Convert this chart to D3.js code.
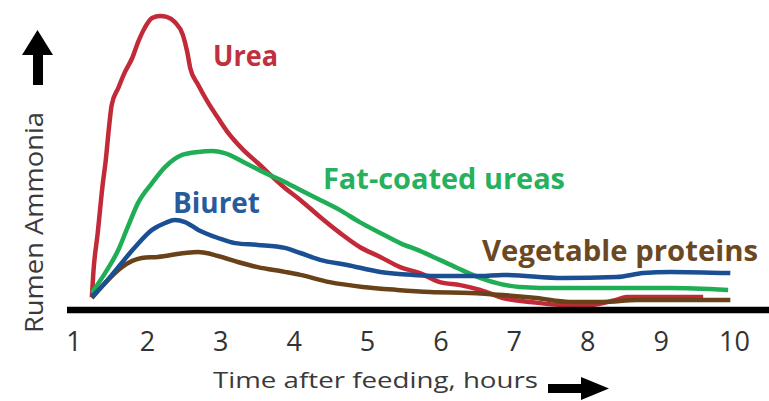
<!DOCTYPE html>
<html>
<head>
<meta charset="utf-8">
<script src="https://cdn.jsdelivr.net/npm/d3@7"></script>
<style>
  html, body { margin: 0; padding: 0; background: #ffffff; }
  svg { display: block; }
</style>
</head>
<body>
<svg id="chart" width="769" height="401"></svg>
<script>
// ---- data (hours after feeding, relative rumen ammonia 0-100) ----
const xTicks = [1, 2, 3, 4, 5, 6, 7, 8, 9, 10];

const ureaX = [1.25,1.27,1.33,1.40,1.44,1.48,1.52,1.61,1.70,1.80,1.88,1.97,2.07,2.18,2.27,2.38,2.49,2.55,2.59,2.70,2.83,2.97,3.10,3.30,3.51,3.88,4.09,4.36,4.63,4.90,5.18,5.45,5.72,5.99,6.27,6.54,6.85,7.22,7.67,8.04,8.38,8.54,9.13,9.58];
const ureaY = [4.3,12.3,25.7,42.3,50,60,68.3,74,79.3,84,89.3,94,97.3,98,97.7,96,91.7,86,80.7,75,69.3,64,59.3,53.7,49,40.7,36.7,31,25.7,21,17.7,14.3,12.3,9.3,8.3,6.7,4,2.7,1.7,1.7,3.3,4.3,4.3,4.3];

const fatX = [1.25,1.43,1.61,1.74,1.88,2.07,2.25,2.48,2.70,2.89,3.06,3.34,3.61,3.88,4.09,4.36,4.63,4.90,5.18,5.45,5.72,5.99,6.23,6.54,6.81,7.08,7.63,9.13,9.92];
const fatY = [5.7,12.3,20,27.7,35.7,42.3,47.7,51.7,52.7,53,52.3,49,45.7,42.7,40,36.7,33.3,29.3,25.7,22.3,19.7,16.7,14,10.7,8.7,7.7,7.3,7.3,6.7];

const biuretX = [1.25,1.43,1.61,1.84,2.07,2.25,2.38,2.52,2.70,2.97,3.20,3.51,3.88,4.09,4.36,4.73,5.18,5.63,6.09,6.54,6.85,7.67,8.40,8.76,9.13,9.95];
const biuretY = [4.3,9,14.3,21,26.7,29,30,29.3,26.7,24,22.3,21.7,20.7,19,16.7,15,12.7,11.7,11.3,11.3,11.7,10.7,11,12.3,12.7,12.3];

const vegX = [1.25,1.43,1.66,1.93,2.15,2.52,2.70,2.97,3.24,3.51,3.88,4.09,4.49,4.94,5.41,5.86,6.40,6.85,7.31,7.76,8.21,8.68,9.13,9.95];
const vegY = [4,9,14.3,17.3,17.7,19,19.3,18,16,14.3,12.7,11.7,9.3,7.7,6.7,6,5.7,5,4,2.7,2.7,3.3,3.3,3.3];

const seriesNames = ["Urea", "Fat-coated ureas", "Vegetable proteins", "Biuret"];
const seriesColors = ["#C22A3A", "#1FAE55", "#6A4219", "#1B4F93"];

// ---- layout ----
const svg = d3.select("#chart");
const x = d3.scaleLinear().domain([1, 10]).range([73.5, 734]);
const y = d3.scaleLinear().domain([0, 100]).range([310, 10]);

const series = [
  { name: seriesNames[0], color: seriesColors[0], xs: ureaX, ys: ureaY },
  { name: seriesNames[1], color: seriesColors[1], xs: fatX, ys: fatY },
  { name: seriesNames[2], color: seriesColors[2], xs: vegX, ys: vegY },
  { name: seriesNames[3], color: seriesColors[3], xs: biuretX, ys: biuretY }
];

const line = d3.line()
  .x(d => x(d[0]))
  .y(d => y(d[1]))
  .curve(d3.curveMonotoneX);

svg.append("g").selectAll("path")
  .data(series)
  .join("path")
  .attr("d", s => line(s.xs.map((v, i) => [v, s.ys[i]])))
  .attr("fill", "none")
  .attr("stroke", s => s.color)
  .attr("stroke-width", 4.5)
  .attr("stroke-linejoin", "round")
  .attr("stroke-linecap", "butt");

// baseline (x axis line)
svg.append("line")
  .attr("x1", 67).attr("x2", 769)
  .attr("y1", y(0)).attr("y2", y(0))
  .attr("stroke", "#000").attr("stroke-width", 6.5);

// tick labels
const xAxis = d3.axisBottom(x).tickValues(xTicks).tickSize(0).tickPadding(22).tickFormat(d3.format("d"));
const gx = svg.append("g").attr("transform", `translate(0,${y(0)})`).call(xAxis);
gx.select(".domain").remove();
gx.selectAll("text")
  .attr("font-family", "'Open Sans', Lato, sans-serif")
  .attr("font-size", 27)
  .attr("fill", "#333");

// series labels
const labelFont = "'Open Sans', Lato, sans-serif";
const labels = [
  { text: "Urea", x: 213, y: 66, len: 65, color: "#C0303F" },
  { text: "Biuret", x: 173, y: 213, len: 87, color: "#285A9C" },
  { text: "Fat-coated ureas", x: 323, y: 189, len: 242, color: "#27B05E" },
  { text: "Vegetable proteins", x: 482, y: 261, len: 276, color: "#6C4822" }
];
svg.append("g").selectAll("text")
  .data(labels)
  .join("text")
  .attr("x", d => d.x).attr("y", d => d.y)
  .attr("textLength", d => d.len)
  .attr("lengthAdjust", "spacingAndGlyphs")
  .attr("font-family", labelFont)
  .attr("font-weight", "bold")
  .attr("font-size", 28.5)
  .attr("fill", d => d.color)
  .text(d => d.text);

// axis titles
svg.append("text")
  .attr("transform", "translate(43,222.5) rotate(-90)")
  .attr("text-anchor", "middle")
  .attr("textLength", 221)
  .attr("lengthAdjust", "spacingAndGlyphs")
  .attr("font-family", labelFont)
  .attr("font-size", 25)
  .attr("fill", "#3a3a3a")
  .text("Rumen Ammonia");

svg.append("text")
  .attr("x", 213).attr("y", 388)
  .attr("textLength", 325)
  .attr("lengthAdjust", "spacingAndGlyphs")
  .attr("font-family", labelFont)
  .attr("font-size", 22.5)
  .attr("fill", "#3a3a3a")
  .text("Time after feeding, hours");

// arrows
svg.append("path")
  .attr("d", "M37.5,30 L53,55 L43,55 L43,85 L33,85 L33,55 L22,55 Z")
  .attr("fill", "#000");
svg.append("path")
  .attr("d", "M548,384 L581,384 L581,377 L609,388.5 L581,400 L581,393 L548,393 Z")
  .attr("fill", "#000");
</script>
</body>
</html>
